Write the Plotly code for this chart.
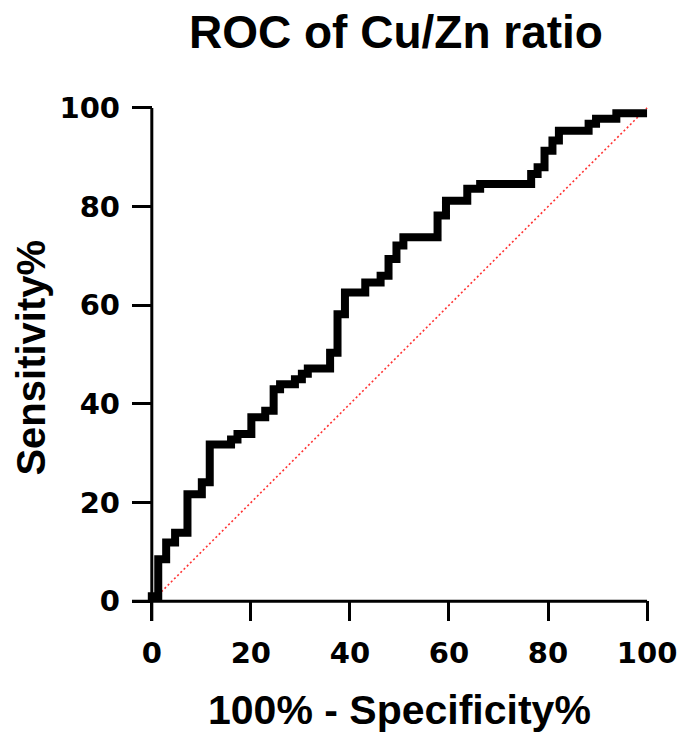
import plotly.graph_objects as go

# ROC curve step corners: x = 100% - Specificity%, y = Sensitivity% (top of each riser)
fpr = [0, 0, 1.3, 2.9, 4.7, 7.2, 10.1, 11.7, 16.0, 17.3, 20.1, 22.9, 24.6, 25.9, 28.9,
       30.3, 31.5, 36.0, 37.5, 39.0, 43.1, 46.2, 47.8, 49.4, 50.8, 57.7, 59.4, 63.7,
       66.3, 76.6, 77.9, 79.3, 80.9, 82.2, 88.2, 89.7, 93.8, 100]
tpr = [0, 1.0, 8.5, 11.9, 13.9, 21.7, 24.1, 31.8, 32.8, 33.9, 37.3, 38.6, 43.0, 44.0, 45.0,
       46.1, 47.2, 50.4, 58.2, 62.6, 64.6, 66.0, 69.4, 72.1, 73.8, 78.2, 81.2, 83.6,
       84.6, 86.6, 88.0, 91.3, 93.4, 95.4, 96.8, 97.8, 98.9, 98.9]
ref_x = [0, 100]
ref_y = [0, 100]
tick_vals = [0, 20, 40, 60, 80, 100]
tick_text = ["0", "20", "40", "60", "80", "100"]

title_text = "ROC of Cu/Zn ratio"
x_title = "100% - Specificity%"
y_title = "Sensitivity%"

FONT = "Liberation Sans, Arial, sans-serif"
TICKFONT = "DejaVu Sans, sans-serif"
L, R, T, B = 132, 29, 103, 118
W, H = 689, 739
PW = W - L - R
PH = H - T - B

fig = go.Figure()
fig.add_trace(go.Scatter(x=ref_x, y=ref_y, mode="lines",
                         line=dict(color="#FF3333", width=1.6, dash="2px,2.5px"),
                         hoverinfo="skip", showlegend=False))
fig.add_trace(go.Scatter(x=fpr, y=tpr, mode="lines", line_shape="hv",
                         line=dict(color="black", width=8),
                         showlegend=False))

axis_common = dict(showgrid=False, zeroline=False, showline=False,
                   ticks="inside", ticklen=20, tickwidth=3, tickcolor="black",
                   tickvals=tick_vals, ticktext=tick_text, fixedrange=True,
                   ticklabeloverflow="allow",
                   tickfont=dict(family=TICKFONT, size=29, color="black", weight="bold"))
fig.update_xaxes(**axis_common, range=[-4, 101], ticklabelstandoff=12)
fig.update_yaxes(**axis_common, range=[-4, 101], ticklabelstandoff=11)

# axis lines crossing at origin, extended by the tick length
fig.add_shape(type="line", x0=-4, x1=100, y0=0, y1=0, xref="x", yref="y",
              line=dict(color="black", width=3), layer="below")
fig.add_shape(type="line", x0=0, x1=0, y0=-4, y1=100, xref="x", yref="y",
              line=dict(color="black", width=3), layer="below")

def px_to_paper(px, py):
    return (px - L) / PW, (T + PH - py) / PH

tx, ty = px_to_paper(400, 32)
ax_, ay_ = px_to_paper(404, 710)
bx, by = px_to_paper(29, 358)
fig.add_annotation(text=title_text, x=tx, y=ty, xref="paper", yref="paper",
                   showarrow=False, xanchor="center", yanchor="middle",
                   font=dict(family=FONT, size=46, color="black", weight="bold"))
fig.add_annotation(text=x_title, x=ax_, y=ay_, xref="paper", yref="paper",
                   showarrow=False, xanchor="center", yanchor="middle",
                   font=dict(family=FONT, size=41, color="black", weight="bold"))
fig.add_annotation(text=y_title, x=bx, y=by, xref="paper", yref="paper",
                   showarrow=False, xanchor="center", yanchor="middle", textangle=-90,
                   font=dict(family=FONT, size=40, color="black", weight="bold"))

fig.update_layout(width=W, height=H, margin=dict(l=L, r=R, t=T, b=B),
                  plot_bgcolor="white", paper_bgcolor="white")

fig.write_html("out.html", config={"displayModeBar": False},
               post_script="document.body.style.margin='0';document.body.style.overflow='hidden';")
